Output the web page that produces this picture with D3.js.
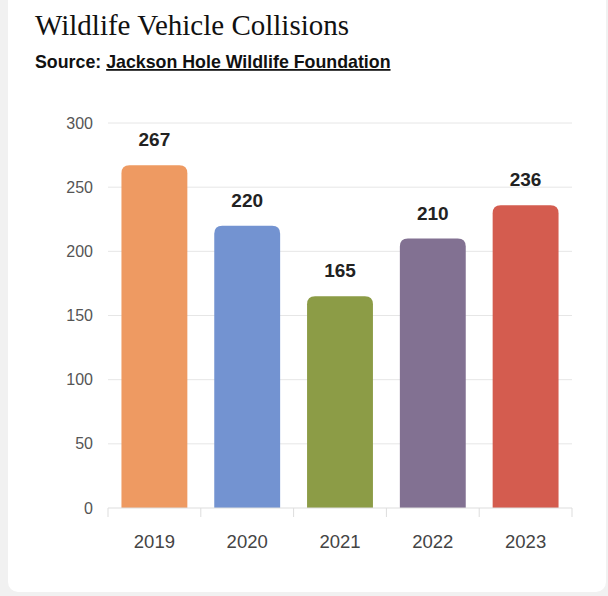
<!DOCTYPE html>
<html>
<head>
<meta charset="utf-8">
<script src="https://cdn.jsdelivr.net/npm/d3@7"></script>
<style>
  body { margin: 0; background: #f1f1f1; width: 608px; height: 596px; overflow: hidden; }
  #card { position: absolute; left: 8px; top: -20px; width: 598px; height: 612px; background: #fff; border-radius: 10px; }
  svg { position: absolute; left: 0; top: 0; }
</style>
</head>
<body>
<div id="card"></div>
<div id="chart"></div>
<script>
// data
const years = ["2019", "2020", "2021", "2022", "2023"];
const collisions = [267, 220, 165, 210, 236];
const barColors = ["#ee9a62", "#7393d1", "#8c9c46", "#827192", "#d45c4f"];
const yTicks = [0, 50, 100, 150, 200, 250, 300];

const width = 608, height = 596;
const margin = {top: 123, right: 36, bottom: 88, left: 108};

const svg = d3.select("#chart")
    .append("svg")
    .attr("width", width)
    .attr("height", height);

// title and source
svg.append("text")
    .attr("x", 35)
    .attr("y", 35)
    .style("font-family", "'Liberation Serif', 'Times New Roman', serif")
    .style("font-size", "29px")
    .attr("fill", "#111")
    .text("Wildlife Vehicle Collisions");

const src = svg.append("text")
    .attr("x", 35)
    .attr("y", 68)
    .style("font-family", "'Liberation Sans', Arial, sans-serif")
    .style("font-size", "17.8px")
    .style("font-weight", "bold")
    .attr("fill", "#111");
src.append("tspan").text("Source: ");
src.append("tspan").style("text-decoration", "underline").text("Jackson Hole Wildlife Foundation");

const x = d3.scaleBand()
    .domain(years)
    .range([margin.left, width - margin.right])
    .paddingInner(0.29)
    .paddingOuter(0.145);

const y = d3.scaleLinear()
    .domain([0, 300])
    .range([height - margin.bottom, margin.top]);

// gridlines
svg.append("g")
    .selectAll("line")
    .data(yTicks.filter(d => d > 0))
    .join("line")
    .attr("x1", margin.left)
    .attr("x2", width - margin.right)
    .attr("y1", d => y(d))
    .attr("y2", d => y(d))
    .attr("stroke", "#e6e6e6")
    .attr("stroke-width", 1);

// y labels
svg.append("g")
    .selectAll("text")
    .data(yTicks)
    .join("text")
    .attr("x", 93)
    .attr("y", d => y(d))
    .attr("dy", "0.35em")
    .attr("text-anchor", "end")
    .style("font-family", "'Liberation Sans', Arial, sans-serif")
    .style("font-size", "16px")
    .attr("fill", "#555")
    .text(d => d);

// bars with rounded tops
const r = 8;
svg.append("g")
    .selectAll("path")
    .data(years)
    .join("path")
    .attr("d", (d, i) => {
        const x0 = x(d), w = x.bandwidth(), top = y(collisions[i]), base = y(0);
        return `M${x0},${base}V${top + r}Q${x0},${top} ${x0 + r},${top}H${x0 + w - r}Q${x0 + w},${top} ${x0 + w},${top + r}V${base}Z`;
    })
    .attr("fill", (d, i) => barColors[i]);

// value labels
svg.append("g")
    .selectAll("text")
    .data(years)
    .join("text")
    .attr("x", d => x(d) + x.bandwidth() / 2)
    .attr("y", (d, i) => y(collisions[i]) - 19)
    .attr("text-anchor", "middle")
    .style("font-family", "'Liberation Sans', Arial, sans-serif")
    .style("font-size", "19px")
    .style("font-weight", "bold")
    .attr("fill", "#222")
    .text((d, i) => collisions[i]);

// x axis
const xAxis = svg.append("g")
    .attr("transform", `translate(0,${y(0)})`);
xAxis.append("line")
    .attr("x1", margin.left)
    .attr("x2", width - margin.right)
    .attr("stroke", "#ddd");
const step = x.step();
xAxis.selectAll("line.tick")
    .data(d3.range(years.length + 1))
    .join("line")
    .attr("class", "tick")
    .attr("x1", i => margin.left + i * step)
    .attr("x2", i => margin.left + i * step)
    .attr("y1", 0)
    .attr("y2", 9)
    .attr("stroke", "#ddd");
xAxis.selectAll("text")
    .data(years)
    .join("text")
    .attr("x", d => x(d) + x.bandwidth() / 2)
    .attr("y", 40)
    .attr("text-anchor", "middle")
    .style("font-family", "'Liberation Sans', Arial, sans-serif")
    .style("font-size", "18.5px")
    .attr("fill", "#444")
    .text(d => d);
</script>
</body>
</html>
